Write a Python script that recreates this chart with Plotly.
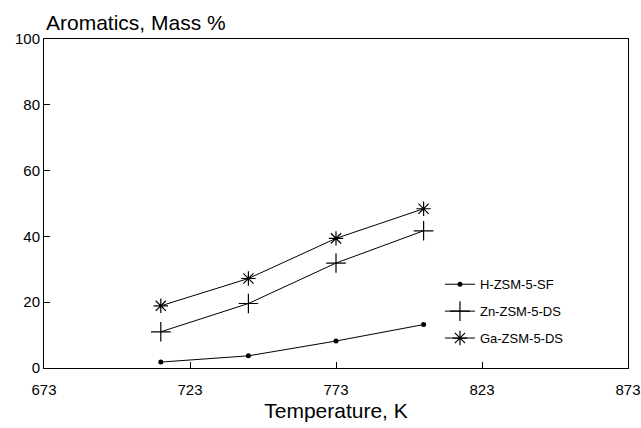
import plotly.graph_objects as go

temps = [713, 743, 773, 803]
h_zsm = [1.8, 3.7, 8.2, 13.2]
zn_zsm = [11.0, 19.6, 31.9, 41.7]
ga_zsm = [18.9, 27.2, 39.4, 48.4]
names = ["H-ZSM-5-SF", "Zn-ZSM-5-DS", "Ga-ZSM-5-DS"]
x_ticks = [673, 723, 773, 823, 873]
y_ticks = [0, 20, 40, 60, 80, 100]

FONT = "Liberation Sans, Arial, sans-serif"

fig = go.Figure()
specs = [
    (h_zsm, dict(symbol="circle", size=5, color="black")),
    (zn_zsm, dict(symbol="cross-thin", size=14, color="black", line=dict(width=1.2, color="black"))),
    (ga_zsm, dict(symbol="asterisk-open", size=12, color="black", line=dict(width=1.2, color="black"))),
]
for i, (vals, mk) in enumerate(specs):
    fig.add_trace(go.Scatter(
        x=temps, y=vals, mode="lines+markers", name=names[i],
        legendgroup=names[i],
        line=dict(color="black", width=1), marker=mk,
    ))

fig.update_layout(
    width=641, height=428,
    margin=dict(l=44, r=13, t=39, b=60),
    paper_bgcolor="white", plot_bgcolor="white",
    font=dict(family=FONT, color="black", size=15),
    showlegend=True,
    legend=dict(x=0.678, y=0.30, xanchor="left", yanchor="top",
                font=dict(size=13, family=FONT), bgcolor="rgba(0,0,0,0)",
                tracegroupgap=7),
    annotations=[dict(text="Aromatics, Mass %", x=0, y=1, xref="paper", yref="paper",
                      xanchor="left", yanchor="bottom", yshift=3, showarrow=False,
                      font=dict(size=21, family=FONT))],
)
fig.update_xaxes(range=[673, 873], tickvals=x_ticks, ticktext=[str(t) for t in x_ticks],
                 automargin=False, ticklabelstandoff=8,
                 showline=True, linecolor="black", linewidth=1, mirror=True,
                 ticks="inside", ticklen=6, tickcolor="black", showgrid=False, zeroline=False,
                 title=dict(text="Temperature, K", font=dict(size=21), standoff=6))
fig.update_yaxes(range=[0, 100], tickvals=y_ticks, automargin=False,
                 showline=True, linecolor="black", linewidth=1, mirror=True,
                 ticks="inside", ticklen=6, tickcolor="black", showgrid=False, zeroline=False)

fig.write_html("out.html", config={"displayModeBar": False},
               post_script="document.body.style.margin='0px';document.body.style.overflow='hidden';")
